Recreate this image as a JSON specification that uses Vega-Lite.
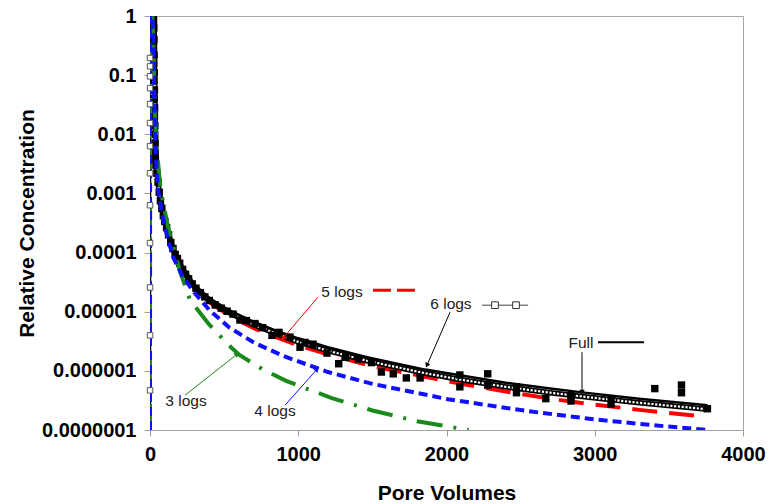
{
  "$schema": "https://vega.github.io/schema/vega-lite/v6.json",
  "width": 593,
  "height": 414,
  "autosize": "none",
  "padding": {"left": 150, "top": 16, "right": 25, "bottom": 74},
  "background": "white",
  "config": {
    "view": {"stroke": "#a6a6a6", "strokeWidth": 1},
    "axis": {
      "grid": false,
      "domainColor": "#a0a0a0",
      "tickColor": "#a0a0a0",
      "tickSize": 6,
      "labelFont": "Liberation Sans",
      "labelFontWeight": "bold",
      "labelFontSize": 20,
      "labelColor": "#000000",
      "titleFont": "Liberation Sans",
      "titleFontWeight": "bold",
      "titleFontSize": 21,
      "titleColor": "#000000"
    }
  },
  "datasets": {
    "curves": [
      {"series": "Full", "pv": 0, "c": 1e-7}, {"series": "Full", "pv": 0.5, "c": 0.001}, {"series": "Full", "pv": 1, "c": 1},
      {"series": "Full", "pv": 20, "c": 1}, {"series": "Full", "pv": 26, "c": 0.501}, {"series": "Full", "pv": 30, "c": 0.158},
      {"series": "Full", "pv": 33, "c": 0.0398}, {"series": "Full", "pv": 36, "c": 0.0126}, {"series": "Full", "pv": 40, "c": 0.00501},
      {"series": "Full", "pv": 48, "c": 0.00224}, {"series": "Full", "pv": 58, "c": 0.00126}, {"series": "Full", "pv": 82, "c": 0.000501},
      {"series": "Full", "pv": 118, "c": 0.000234}, {"series": "Full", "pv": 160, "c": 0.000105}, {"series": "Full", "pv": 220, "c": 5.25e-5},
      {"series": "Full", "pv": 300, "c": 2.82e-5}, {"series": "Full", "pv": 400, "c": 1.70e-5}, {"series": "Full", "pv": 536, "c": 1.05e-5},
      {"series": "Full", "pv": 700, "c": 6.76e-6}, {"series": "Full", "pv": 850, "c": 4.79e-6}, {"series": "Full", "pv": 1000, "c": 3.55e-6},
      {"series": "Full", "pv": 1200, "c": 2.51e-6}, {"series": "Full", "pv": 1464, "c": 1.70e-6}, {"series": "Full", "pv": 1856, "c": 1.05e-6},
      {"series": "Full", "pv": 2100, "c": 8.32e-7}, {"series": "Full", "pv": 2400, "c": 6.31e-7}, {"series": "Full", "pv": 2700, "c": 5.01e-7},
      {"series": "Full", "pv": 2900, "c": 4.37e-7}, {"series": "Full", "pv": 3300, "c": 3.39e-7}, {"series": "Full", "pv": 3760, "c": 2.63e-7},

      {"series": "6 logs", "pv": 20, "c": 1}, {"series": "6 logs", "pv": 26, "c": 0.501}, {"series": "6 logs", "pv": 30, "c": 0.158},
      {"series": "6 logs", "pv": 33, "c": 0.0398}, {"series": "6 logs", "pv": 36, "c": 0.0126}, {"series": "6 logs", "pv": 40, "c": 0.00501},
      {"series": "6 logs", "pv": 48, "c": 0.00224}, {"series": "6 logs", "pv": 58, "c": 0.00126}, {"series": "6 logs", "pv": 82, "c": 0.000501},
      {"series": "6 logs", "pv": 118, "c": 0.000234}, {"series": "6 logs", "pv": 160, "c": 0.000105}, {"series": "6 logs", "pv": 220, "c": 5.25e-5},
      {"series": "6 logs", "pv": 300, "c": 2.63e-5}, {"series": "6 logs", "pv": 400, "c": 1.58e-5}, {"series": "6 logs", "pv": 536, "c": 9.55e-6},
      {"series": "6 logs", "pv": 700, "c": 6.03e-6}, {"series": "6 logs", "pv": 850, "c": 4.27e-6}, {"series": "6 logs", "pv": 1000, "c": 3.09e-6},
      {"series": "6 logs", "pv": 1200, "c": 2.19e-6}, {"series": "6 logs", "pv": 1464, "c": 1.48e-6}, {"series": "6 logs", "pv": 1856, "c": 9.12e-7},
      {"series": "6 logs", "pv": 2100, "c": 7.08e-7}, {"series": "6 logs", "pv": 2400, "c": 5.37e-7}, {"series": "6 logs", "pv": 2700, "c": 4.27e-7},
      {"series": "6 logs", "pv": 2900, "c": 3.72e-7}, {"series": "6 logs", "pv": 3300, "c": 2.88e-7}, {"series": "6 logs", "pv": 3760, "c": 2.24e-7},

      {"series": "5 logs", "pv": 20, "c": 1}, {"series": "5 logs", "pv": 26, "c": 0.501}, {"series": "5 logs", "pv": 30, "c": 0.158},
      {"series": "5 logs", "pv": 33, "c": 0.0398}, {"series": "5 logs", "pv": 36, "c": 0.0126}, {"series": "5 logs", "pv": 40, "c": 0.00501},
      {"series": "5 logs", "pv": 48, "c": 0.00224}, {"series": "5 logs", "pv": 58, "c": 0.00126}, {"series": "5 logs", "pv": 82, "c": 0.000501},
      {"series": "5 logs", "pv": 118, "c": 0.000234}, {"series": "5 logs", "pv": 160, "c": 0.000105}, {"series": "5 logs", "pv": 220, "c": 5.25e-5},
      {"series": "5 logs", "pv": 300, "c": 2.51e-5}, {"series": "5 logs", "pv": 400, "c": 1.45e-5}, {"series": "5 logs", "pv": 536, "c": 8.51e-6},
      {"series": "5 logs", "pv": 700, "c": 5.25e-6}, {"series": "5 logs", "pv": 850, "c": 3.72e-6}, {"series": "5 logs", "pv": 1000, "c": 2.69e-6},
      {"series": "5 logs", "pv": 1200, "c": 1.91e-6}, {"series": "5 logs", "pv": 1464, "c": 1.26e-6}, {"series": "5 logs", "pv": 1856, "c": 7.94e-7},
      {"series": "5 logs", "pv": 2100, "c": 6.03e-7}, {"series": "5 logs", "pv": 2400, "c": 4.47e-7}, {"series": "5 logs", "pv": 2700, "c": 3.39e-7},
      {"series": "5 logs", "pv": 2900, "c": 2.88e-7}, {"series": "5 logs", "pv": 3300, "c": 2.19e-7}, {"series": "5 logs", "pv": 3720, "c": 1.70e-7},

      {"series": "4 logs", "pv": 0, "c": 1e-7}, {"series": "4 logs", "pv": 0.5, "c": 0.001}, {"series": "4 logs", "pv": 1, "c": 1},
      {"series": "4 logs", "pv": 16, "c": 1}, {"series": "4 logs", "pv": 22, "c": 0.501}, {"series": "4 logs", "pv": 26, "c": 0.158},
      {"series": "4 logs", "pv": 29, "c": 0.0398}, {"series": "4 logs", "pv": 33, "c": 0.0126}, {"series": "4 logs", "pv": 38, "c": 0.00501},
      {"series": "4 logs", "pv": 47, "c": 0.002}, {"series": "4 logs", "pv": 56, "c": 0.00112}, {"series": "4 logs", "pv": 82, "c": 0.000447},
      {"series": "4 logs", "pv": 118, "c": 0.000178}, {"series": "4 logs", "pv": 160, "c": 7.94e-5}, {"series": "4 logs", "pv": 220, "c": 3.98e-5},
      {"series": "4 logs", "pv": 300, "c": 2.09e-5}, {"series": "4 logs", "pv": 400, "c": 1.07e-5}, {"series": "4 logs", "pv": 536, "c": 5.37e-6},
      {"series": "4 logs", "pv": 700, "c": 3.02e-6}, {"series": "4 logs", "pv": 900, "c": 1.78e-6}, {"series": "4 logs", "pv": 1200, "c": 9.55e-7},
      {"series": "4 logs", "pv": 1500, "c": 6.03e-7}, {"series": "4 logs", "pv": 2010, "c": 3.31e-7}, {"series": "4 logs", "pv": 2546, "c": 2.09e-7},
      {"series": "4 logs", "pv": 3000, "c": 1.51e-7}, {"series": "4 logs", "pv": 3400, "c": 1.2e-7}, {"series": "4 logs", "pv": 3760, "c": 1e-7},

      {"series": "3 logs", "pv": 0, "c": 1e-7}, {"series": "3 logs", "pv": 0.5, "c": 0.001}, {"series": "3 logs", "pv": 1, "c": 1},
      {"series": "3 logs", "pv": 16, "c": 1}, {"series": "3 logs", "pv": 22, "c": 0.501}, {"series": "3 logs", "pv": 26, "c": 0.158},
      {"series": "3 logs", "pv": 30, "c": 0.0501}, {"series": "3 logs", "pv": 34, "c": 0.02}, {"series": "3 logs", "pv": 44, "c": 0.00631},
      {"series": "3 logs", "pv": 72, "c": 0.00112}, {"series": "3 logs", "pv": 120, "c": 0.000282}, {"series": "3 logs", "pv": 200, "c": 5.01e-5},
      {"series": "3 logs", "pv": 270, "c": 1.58e-5}, {"series": "3 logs", "pv": 400, "c": 6.03e-6}, {"series": "3 logs", "pv": 546, "c": 2.51e-6},
      {"series": "3 logs", "pv": 603, "c": 1.86e-6}, {"series": "3 logs", "pv": 757, "c": 1.07e-6}, {"series": "3 logs", "pv": 918, "c": 6.76e-7},
      {"series": "3 logs", "pv": 1226, "c": 3.47e-7}, {"series": "3 logs", "pv": 1500, "c": 2.14e-7}, {"series": "3 logs", "pv": 1800, "c": 1.41e-7},
      {"series": "3 logs", "pv": 2150, "c": 1e-7}
    ],
    "observed": [
      {"pv": 12, "c": 1}, {"pv": 18, "c": 1}, {"pv": 22, "c": 0.97}, {"pv": 16, "c": 0.93}, {"pv": 24, "c": 0.85},
      {"pv": 20, "c": 0.75}, {"pv": 26, "c": 0.63}, {"pv": 22, "c": 0.5}, {"pv": 27, "c": 0.4}, {"pv": 24, "c": 0.3},
      {"pv": 28, "c": 0.22}, {"pv": 25, "c": 0.16}, {"pv": 29, "c": 0.11}, {"pv": 27, "c": 0.08}, {"pv": 30, "c": 0.056},
      {"pv": 28, "c": 0.04}, {"pv": 31, "c": 0.028}, {"pv": 30, "c": 0.02}, {"pv": 33, "c": 0.014}, {"pv": 31, "c": 0.01},
      {"pv": 34, "c": 0.0071}, {"pv": 33, "c": 0.005}, {"pv": 36, "c": 0.0038}, {"pv": 40, "c": 0.003}, {"pv": 46, "c": 0.0022},
      {"pv": 54, "c": 0.00155}, {"pv": 62, "c": 0.00105}, {"pv": 70, "c": 0.00075}, {"pv": 80, "c": 0.00056}, {"pv": 90, "c": 0.00042},
      {"pv": 100, "c": 0.000335}, {"pv": 112, "c": 0.000263}, {"pv": 125, "c": 0.0002}, {"pv": 140, "c": 0.000148}, {"pv": 155, "c": 0.000117},
      {"pv": 170, "c": 9.3e-5}, {"pv": 185, "c": 7.94e-5}, {"pv": 200, "c": 6.6e-5}, {"pv": 220, "c": 5.2e-5}, {"pv": 240, "c": 4.3e-5},
      {"pv": 260, "c": 3.6e-5}, {"pv": 285, "c": 2.95e-5}, {"pv": 310, "c": 2.5e-5}, {"pv": 340, "c": 2.1e-5}, {"pv": 370, "c": 1.78e-5},
      {"pv": 400, "c": 1.55e-5}, {"pv": 440, "c": 1.3e-5}, {"pv": 480, "c": 1.15e-5}, {"pv": 520, "c": 1.02e-5}, {"pv": 560, "c": 9.1e-6},
      {"pv": 607, "c": 7.24e-6}, {"pv": 650, "c": 7.08e-6}, {"pv": 708, "c": 6.31e-6}, {"pv": 760, "c": 5.37e-6}, {"pv": 823, "c": 3.98e-6},
      {"pv": 870, "c": 4.47e-6}, {"pv": 944, "c": 3.72e-6}, {"pv": 1012, "c": 2.51e-6}, {"pv": 1046, "c": 3.02e-6}, {"pv": 1100, "c": 2.82e-6},
      {"pv": 1194, "c": 2e-6}, {"pv": 1273, "c": 1.32e-6}, {"pv": 1320, "c": 1.7e-6}, {"pv": 1407, "c": 1.58e-6}, {"pv": 1494, "c": 1.38e-6},
      {"pv": 1561, "c": 9.55e-7}, {"pv": 1641, "c": 8.91e-7}, {"pv": 1729, "c": 7.59e-7}, {"pv": 1822, "c": 7.59e-7},
      {"pv": 2090, "c": 8.51e-7}, {"pv": 2090, "c": 5.37e-7}, {"pv": 2278, "c": 8.91e-7}, {"pv": 2278, "c": 5.75e-7},
      {"pv": 2472, "c": 5.37e-7}, {"pv": 2472, "c": 4.27e-7}, {"pv": 2670, "c": 3.39e-7}, {"pv": 2840, "c": 3.8e-7},
      {"pv": 2840, "c": 3.09e-7}, {"pv": 3110, "c": 3.39e-7}, {"pv": 3110, "c": 2.75e-7}, {"pv": 3405, "c": 5.01e-7},
      {"pv": 3585, "c": 5.75e-7}, {"pv": 3585, "c": 4.27e-7}, {"pv": 3760, "c": 2.29e-7}
    ],
    "rise6": [
      {"pv": 0.3, "c": 0.195}, {"pv": 0.3, "c": 0.141}, {"pv": 0.3, "c": 0.0955}, {"pv": 0.3, "c": 0.0603}, {"pv": 0.3, "c": 0.0324},
      {"pv": 0.3, "c": 0.0155}, {"pv": 0.3, "c": 0.00631}, {"pv": 0.3, "c": 0.00219}, {"pv": 0.3, "c": 0.000631}, {"pv": 0.3, "c": 0.000145},
      {"pv": 0.3, "c": 2.57e-5}, {"pv": 0.3, "c": 3.98e-6}, {"pv": 0.3, "c": 4.68e-7}
    ],
    "arrows": [
      {"series": "5 logs", "pv": 1133, "c": 1.76e-5, "pv2": 897, "c2": 3.56e-6},
      {"series": "6 logs", "pv": 2024, "c": 9.82e-6, "pv2": 1868, "c2": 1.24e-6},
      {"series": "Full", "pv": 2914, "c": 2.07e-6, "pv2": 2914, "c2": 4.35e-7},
      {"series": "3 logs", "pv": 236, "c": 3.86e-7, "pv2": 587, "c2": 1.91e-6},
      {"series": "4 logs", "pv": 911, "c": 2.62e-7, "pv2": 1126, "c2": 1.06e-6}
    ],
    "labels": [
      {"label": "5 logs", "pv": 1295, "c": 2.14e-5},
      {"label": "6 logs", "pv": 2030, "c": 1.34e-5},
      {"label": "Full", "pv": 2907, "c": 2.93e-6},
      {"label": "3 logs", "pv": 243, "c": 3.06e-7},
      {"label": "4 logs", "pv": 843, "c": 2.07e-7}
    ],
    "keys": [
      {"series": "5 logs", "pv": 1504, "c": 2.31e-5}, {"series": "5 logs", "pv": 1787, "c": 2.31e-5},
      {"series": "6 logs", "pv": 2239, "c": 1.29e-5}, {"series": "6 logs", "pv": 2550, "c": 1.29e-5},
      {"series": "Full", "pv": 3022, "c": 3.05e-6}, {"series": "Full", "pv": 3332, "c": 3.05e-6}
    ],
    "keysq": [
      {"pv": 2327, "c": 1.29e-5}, {"pv": 2469, "c": 1.29e-5}
    ]
  },
  "encoding": {
    "x": {
      "field": "pv", "type": "quantitative",
      "scale": {"domain": [0, 4000], "nice": false, "zero": false},
      "axis": {"values": [0, 1000, 2000, 3000, 4000], "format": "d", "labelPadding": 8, "titlePadding": 18, "labelFlush": false},
      "title": "Pore Volumes"
    },
    "y": {
      "field": "c", "type": "quantitative",
      "scale": {"type": "log", "domain": [1e-7, 1], "nice": false},
      "axis": {"values": [1e-7, 1e-6, 1e-5, 1e-4, 1e-3, 1e-2, 0.1, 1], "format": ".7~f", "labelPadding": 8, "titlePadding": 4, "labelFlush": false},
      "title": "Relative Concentration"
    }
  },
  "layer": [
    {"data": {"name": "curves"}, "transform": [{"filter": "datum.series === '5 logs'"}],
     "mark": {"type": "line", "color": "#ff0000", "strokeWidth": 4, "strokeDash": [25, 12], "clip": true}},
    {"data": {"name": "curves"}, "transform": [{"filter": "datum.series === 'Full'"}],
     "mark": {"type": "line", "color": "#000000", "strokeWidth": 2.5, "clip": true}},
    {"data": {"name": "curves"}, "transform": [{"filter": "datum.series === '6 logs'"}],
     "mark": {"type": "line", "color": "#000000", "strokeWidth": 5.5, "clip": true}},
    {"data": {"name": "curves"}, "transform": [{"filter": "datum.series === '6 logs'"}],
     "mark": {"type": "line", "color": "#ffffff", "strokeWidth": 2.2, "strokeDash": [2.2, 1.6], "clip": true}},
    {"data": {"name": "observed"},
     "mark": {"type": "square", "filled": true, "color": "#000000", "size": 55, "opacity": 1, "clip": true}},
    {"data": {"name": "curves"}, "transform": [{"filter": "datum.series === '3 logs'"}],
     "mark": {"type": "line", "color": "#1a8a1a", "strokeWidth": 4, "strokeDash": [26, 11, 3, 11], "clip": true}},
    {"data": {"name": "curves"}, "transform": [{"filter": "datum.series === '4 logs'"}],
     "mark": {"type": "line", "color": "#1010ff", "strokeWidth": 4, "strokeDash": [9, 5], "clip": true}},
    {"data": {"name": "rise6"},
     "mark": {"type": "square", "filled": true, "fill": "#ffffff", "stroke": "#555555", "strokeWidth": 1, "size": 30, "opacity": 1}},
    {"data": {"name": "arrows"},
     "mark": {"type": "rule", "strokeWidth": 1},
     "encoding": {
       "x2": {"field": "pv2"}, "y2": {"field": "c2"},
       "color": {"field": "series", "type": "nominal", "legend": null,
                 "scale": {"domain": ["Full", "6 logs", "5 logs", "4 logs", "3 logs"], "range": ["#000000", "#000000", "#ff0000", "#1010ff", "#1a8a1a"]}}
     }},
    {"data": {"name": "arrows"}, "transform": [{"filter": "datum.series === '5 logs'"}],
     "mark": {"type": "point", "shape": "triangle-up", "filled": true, "color": "#ff0000", "size": 30, "angle": 220.5, "opacity": 1},
     "encoding": {"x": {"field": "pv2", "type": "quantitative"}, "y": {"field": "c2", "type": "quantitative"}}},
    {"data": {"name": "arrows"}, "transform": [{"filter": "datum.series === '6 logs'"}],
     "mark": {"type": "point", "shape": "triangle-up", "filled": true, "color": "#000000", "size": 30, "angle": 203.5, "opacity": 1},
     "encoding": {"x": {"field": "pv2", "type": "quantitative"}, "y": {"field": "c2", "type": "quantitative"}}},
    {"data": {"name": "arrows"}, "transform": [{"filter": "datum.series === 'Full'"}],
     "mark": {"type": "point", "shape": "triangle-up", "filled": true, "color": "#000000", "size": 30, "angle": 180, "opacity": 1},
     "encoding": {"x": {"field": "pv2", "type": "quantitative"}, "y": {"field": "c2", "type": "quantitative"}}},
    {"data": {"name": "arrows"}, "transform": [{"filter": "datum.series === '3 logs'"}],
     "mark": {"type": "point", "shape": "triangle-up", "filled": true, "color": "#1a8a1a", "size": 30, "angle": 51.7, "opacity": 1},
     "encoding": {"x": {"field": "pv2", "type": "quantitative"}, "y": {"field": "c2", "type": "quantitative"}}},
    {"data": {"name": "arrows"}, "transform": [{"filter": "datum.series === '4 logs'"}],
     "mark": {"type": "point", "shape": "triangle-up", "filled": true, "color": "#1010ff", "size": 30, "angle": 41.6, "opacity": 1},
     "encoding": {"x": {"field": "pv2", "type": "quantitative"}, "y": {"field": "c2", "type": "quantitative"}}},
    {"data": {"name": "keys"}, "transform": [{"filter": "datum.series === '5 logs'"}],
     "mark": {"type": "line", "color": "#ff0000", "strokeWidth": 3, "strokeDash": [18, 6]}},
    {"data": {"name": "keys"}, "transform": [{"filter": "datum.series === '6 logs'"}],
     "mark": {"type": "line", "color": "#444444", "strokeWidth": 1}},
    {"data": {"name": "keys"}, "transform": [{"filter": "datum.series === 'Full'"}],
     "mark": {"type": "line", "color": "#000000", "strokeWidth": 2}},
    {"data": {"name": "keysq"},
     "mark": {"type": "square", "filled": true, "fill": "#ffffff", "stroke": "#333333", "strokeWidth": 1, "size": 45, "opacity": 1}},
    {"data": {"name": "labels"},
     "mark": {"type": "text", "font": "Liberation Sans", "fontSize": 15.5, "color": "#222222", "align": "center", "baseline": "middle"},
     "encoding": {"text": {"field": "label", "type": "nominal"}}}
  ]
}
